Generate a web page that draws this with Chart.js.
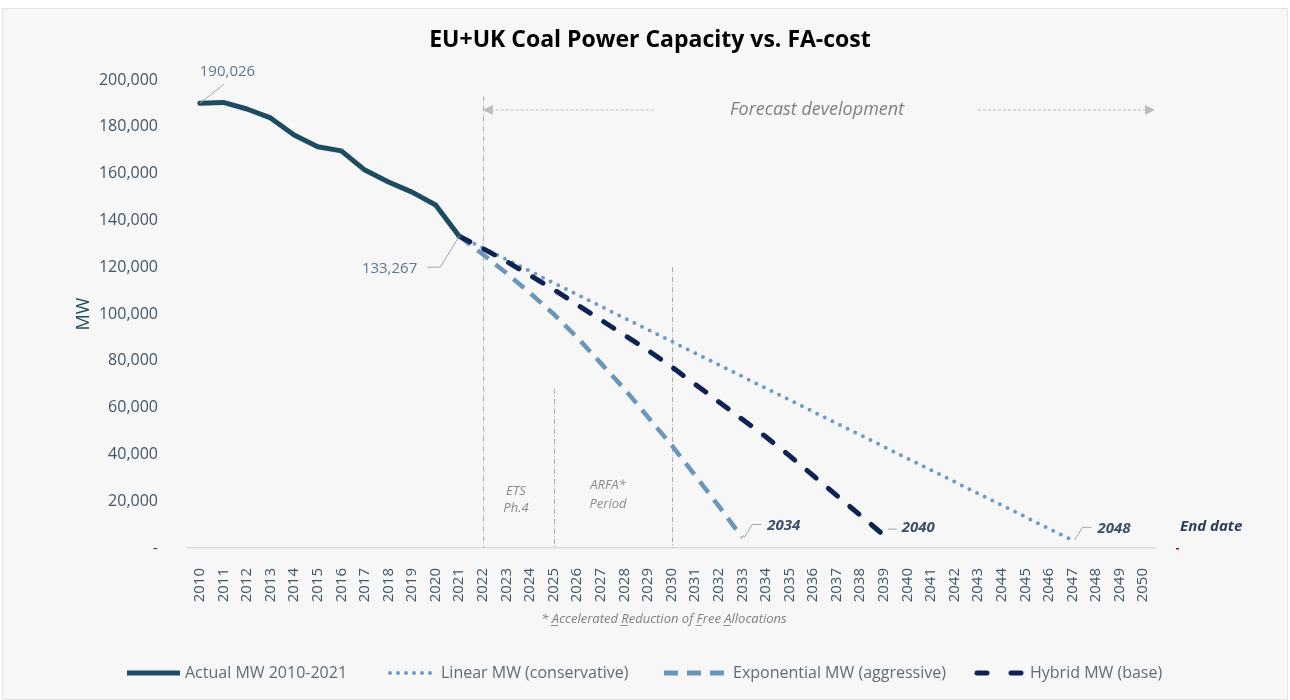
<!DOCTYPE html>
<html>
<head>
<meta charset="utf-8">
<script src="https://cdn.jsdelivr.net/npm/chart.js@4"></script>
<style>
  html, body { margin: 0; padding: 0; background: #fff; }
  #wrap { width: 1290px; height: 700px; }
</style>
</head>
<body>
<div id="wrap"><canvas id="chart" width="1290" height="700"></canvas></div>
<script>
const years = ["2010","2011","2012","2013","2014","2015","2016","2017","2018","2019",
  "2020","2021","2022","2023","2024","2025","2026","2027","2028","2029",
  "2030","2031","2032","2033","2034","2035","2036","2037","2038","2039",
  "2040","2041","2042","2043","2044","2045","2046","2047","2048","2049","2050"];

// actual 2010-2021
const actualMW = [190026, 190400, 187600, 183800, 176500, 171500, 169700, 161500, 156400, 152100, 146600, 133267];
// forecasts, all starting at 2021
const linearMW = [133267, 128300, 123300, 118300, 113300, 108300, 103300, 98300, 93300, 88300,
  83300, 78300, 73300, 68300, 63300, 58300, 53300, 48300, 43300, 38300,
  33300, 28300, 23300, 18300, 13300, 8300, 3300];
const exponentialMW = [133267, 125500, 117500, 109000, 100000, 90000, 79000, 68000, 56000, 44000, 31000, 18000, 4500];
const hybridMW = [133267, 128000, 122500, 116500, 110500, 104000, 97500, 91000, 84500, 77500,
  70000, 62500, 55000, 47500, 39500, 31000, 22500, 14000, 5500];

const endLabels = ["2034", "2040", "2048"];
const markerYears = ["2022", "2025", "2030"];
const markerTops = [193000, 68000, 120000];

const colActual = "#1d4b5f";
const colLinear = "#719bc2";
const colExp = "#6b96bc";
const colHybrid = "#0f2352";
const tickCol = "#3f5669";

function fromYear(values, start) {
  const i0 = years.indexOf(start);
  return years.map((y, i) => (i >= i0 && i - i0 < values.length ? values[i - i0] : null));
}

const bgPlugin = {
  id: "bg",
  beforeDraw(chart) {
    const ctx = chart.ctx;
    ctx.save();
    ctx.fillStyle = "#ffffff";
    ctx.fillRect(0, 0, chart.width, chart.height);
    ctx.fillStyle = "#f7f7f7";
    ctx.fillRect(2, 8, chart.width - 4, chart.height - 8);
    ctx.strokeStyle = "#e4e4e4";
    ctx.lineWidth = 1;
    ctx.strokeRect(2.5, 8.5, chart.width - 5, chart.height - 9);
    ctx.restore();
  },
  beforeDatasetsDraw(chart) {
    // dash-dot period markers
    const ctx = chart.ctx, xs = chart.scales.x, ys = chart.scales.y;
    ctx.save();
    ctx.strokeStyle = "#a9a9a9";
    ctx.lineWidth = 1;
    ctx.setLineDash([5, 2, 1, 2]);
    markerYears.forEach((yr, i) => {
      const px = Math.round(xs.getPixelForValue(years.indexOf(yr))) + 0.5;
      ctx.beginPath();
      ctx.moveTo(px, ys.getPixelForValue(markerTops[i]));
      ctx.lineTo(px, ys.getPixelForValue(0));
      ctx.stroke();
    });
    ctx.restore();
  }
};

function leader(ctx, pts) {
  ctx.beginPath();
  ctx.moveTo(pts[0][0], pts[0][1]);
  for (let i = 1; i < pts.length; i++) ctx.lineTo(pts[i][0], pts[i][1]);
  ctx.stroke();
}

const notesPlugin = {
  id: "notes",
  afterDraw(chart) {
    const ctx = chart.ctx, xs = chart.scales.x, ys = chart.scales.y;
    const area = chart.chartArea;
    const px = (yr) => xs.getPixelForValue(years.indexOf(yr));
    ctx.save();

    // title
    ctx.fillStyle = "#000";
    ctx.font = "bold 23px 'Open Sans'";
    ctx.textAlign = "center";
    ctx.textBaseline = "middle";
    ctx.fillText("EU+UK Coal Power Capacity vs. FA-cost", 650, 40);

    // y axis title
    ctx.save();
    ctx.translate(84, 314);
    ctx.rotate(-Math.PI / 2);
    ctx.fillStyle = colActual;
    ctx.font = "18px 'Open Sans'";
    ctx.fillText("MW", 0, 0);
    ctx.restore();

    // forecast arrow
    const ay = 110;
    const ax0 = px("2022"), ax1 = area.right;
    ctx.strokeStyle = "#bdbdbd";
    ctx.fillStyle = "#bdbdbd";
    ctx.lineWidth = 1;
    ctx.setLineDash([3, 2]);
    leader(ctx, [[ax0 + 8, ay], [655, ay]]);
    leader(ctx, [[978, ay], [ax1 - 8, ay]]);
    ctx.setLineDash([]);
    ctx.beginPath();
    ctx.moveTo(ax0, ay); ctx.lineTo(ax0 + 10, ay - 5); ctx.lineTo(ax0 + 10, ay + 5); ctx.closePath(); ctx.fill();
    ctx.beginPath();
    ctx.moveTo(ax1, ay); ctx.lineTo(ax1 - 10, ay - 5); ctx.lineTo(ax1 - 10, ay + 5); ctx.closePath(); ctx.fill();
    ctx.fillStyle = "#7f7f7f";
    ctx.font = "italic 18px 'Open Sans'";
    ctx.fillText("Forecast development", 817, ay);

    // period labels
    ctx.fillStyle = "#8a8a8a";
    ctx.font = "italic 13px 'Open Sans'";
    ctx.fillText("ETS", 516, 491);
    ctx.fillText("Ph.4", 516, 508);
    ctx.fillText("ARFA*", 608, 485);
    ctx.fillText("Period", 608, 504);

    // value labels on actual line
    ctx.strokeStyle = "#a6a6a6";
    ctx.lineWidth = 1;
    const p0x = px("2010"), p0y = ys.getPixelForValue(actualMW[0]);
    leader(ctx, [[p0x, p0y], [p0x + 24, p0y - 19]]);
    const p1x = px("2021"), p1y = ys.getPixelForValue(actualMW[actualMW.length - 1]);
    leader(ctx, [[p1x, p1y], [p1x - 19, p1y + 31], [p1x - 32, p1y + 31]]);
    ctx.fillStyle = "#5a7891";
    ctx.font = "15px 'Open Sans'";
    ctx.textAlign = "left";
    ctx.fillText(actualMW[0].toLocaleString("en-US"), p0x, p0y - 32);
    ctx.textAlign = "right";
    ctx.fillText(actualMW[actualMW.length - 1].toLocaleString("en-US"), p1x - 42, p1y + 33);

    // end-year labels
    const ends = [
      [exponentialMW, "2021"], [hybridMW, "2021"], [linearMW, "2021"]
    ];
    ctx.font = "bold italic 15px 'Open Sans'";
    ctx.textAlign = "left";
    ends.forEach((e, i) => {
      const vals = e[0];
      const idx = years.indexOf(e[1]) + vals.length - 1;
      const ex = xs.getPixelForValue(idx), ey = ys.getPixelForValue(vals[vals.length - 1]);
      ctx.strokeStyle = "#a6a6a6";
      if (i === 1) {
        leader(ctx, [[ex + 4, ey - 6], [ex + 13, ey - 6]]);
      } else {
        leader(ctx, [[ex + 2, ey], [ex + 10, ey - 13], [ex + 19, ey - 13]]);
      }
      ctx.fillStyle = "#3c4f66";
      ctx.fillText(endLabels[i], i === 1 ? ex + 18 : ex + 25, i === 1 ? ey - 7 : ey - 12);
    });
    ctx.fillStyle = "#2a3f57";
    ctx.fillText("End date", 1180, 527);
    ctx.fillStyle = "#c00000";
    ctx.fillRect(1176, 548, 3, 1.5);

    // footnote with underlined initials
    const parts = [["* ", 0], ["A", 1], ["ccelerated ", 0], ["R", 1], ["eduction of ", 0], ["F", 1], ["ree ", 0], ["A", 1], ["llocations", 0]];
    ctx.font = "italic 13px 'Open Sans'";
    ctx.fillStyle = "#7f7f7f";
    ctx.strokeStyle = "#8f8f8f";
    ctx.textBaseline = "alphabetic";
    let total = 0;
    parts.forEach(p => { total += ctx.measureText(p[0]).width; });
    let fx = 664 - total / 2;
    parts.forEach(p => {
      const w = ctx.measureText(p[0]).width;
      ctx.fillText(p[0], fx, 623);
      if (p[1]) leader(ctx, [[fx - 1, 625.5], [fx + w - 1, 625.5]]);
      fx += w;
    });
    ctx.textBaseline = "middle";

    // legend
    const legend = [
      { x: 127, len: 53, text: "Actual MW 2010-2021", color: colActual, w: 5, dash: [], cap: "butt" },
      { x: 390, len: 46, text: "Linear MW (conservative)", color: colLinear, w: 4, dash: [0, 8], cap: "round" },
      { x: 664, len: 64, text: "Exponential MW (aggressive)", color: colExp, w: 5, dash: [14, 9], cap: "butt" },
      { x: 977, len: 48, text: "Hybrid MW (base)", color: colHybrid, w: 5, dash: [10, 24], cap: "round" }
    ];
    const ly = 673;
    legend.forEach(l => {
      ctx.strokeStyle = l.color;
      ctx.lineWidth = l.w;
      ctx.lineCap = l.cap;
      ctx.setLineDash(l.dash);
      leader(ctx, [[l.x, ly], [l.x + l.len, ly]]);
      ctx.setLineDash([]);
      ctx.lineCap = "butt";
      ctx.fillStyle = "#5f6b76";
      ctx.font = "16px 'Open Sans'";
      ctx.textAlign = "left";
      ctx.fillText(l.text, l.x + l.len + 5, ly);
    });

    ctx.restore();
  }
};

new Chart(document.getElementById("chart"), {
  type: "line",
  data: {
    labels: years,
    datasets: [
      { label: "Actual MW 2010-2021", data: fromYear(actualMW, "2010"), borderColor: colActual,
        borderWidth: 5, borderCapStyle: "round", borderJoinStyle: "round" },
      { label: "Hybrid MW (base)", data: fromYear(hybridMW, "2021"), borderColor: colHybrid,
        borderWidth: 5, borderDash: [12, 16], borderCapStyle: "round" },
      { label: "Exponential MW (aggressive)", data: fromYear(exponentialMW, "2021"), borderColor: colExp,
        borderWidth: 4.5, borderDash: [14, 9], borderCapStyle: "butt" },
      { label: "Linear MW (conservative)", data: fromYear(linearMW, "2021"), borderColor: colLinear,
        borderWidth: 4, borderDash: [0, 8.5], borderCapStyle: "round" }
    ]
  },
  options: {
    responsive: false,
    animation: false,
    devicePixelRatio: 1,
    layout: { padding: { top: 80, right: 135, bottom: 0, left: 0 } },
    elements: { point: { radius: 0 }, line: { tension: 0, fill: false } },
    plugins: { legend: { display: false }, tooltip: { enabled: false }, title: { display: false } },
    scales: {
      x: {
        offset: true,
        grid: { display: false },
        border: { color: "#d9dde2", width: 1.5 },
        ticks: { autoSkip: false, minRotation: 90, maxRotation: 90, padding: 12,
          color: tickCol, font: { family: "'Open Sans'", size: 15 } },
        afterFit(scale) { scale.height = 152; }
      },
      y: {
        min: 0, max: 200000,
        grid: { display: false },
        border: { display: false },
        ticks: { stepSize: 20000, padding: 22, color: tickCol, font: { family: "'Open Sans'", size: 16 },
          callback: (v) => (v === 0 ? "-" : v.toLocaleString("en-US")) },
        afterFit(scale) { scale.width = 188; }
      }
    }
  },
  plugins: [bgPlugin, notesPlugin]
});
</script>
</body>
</html>
